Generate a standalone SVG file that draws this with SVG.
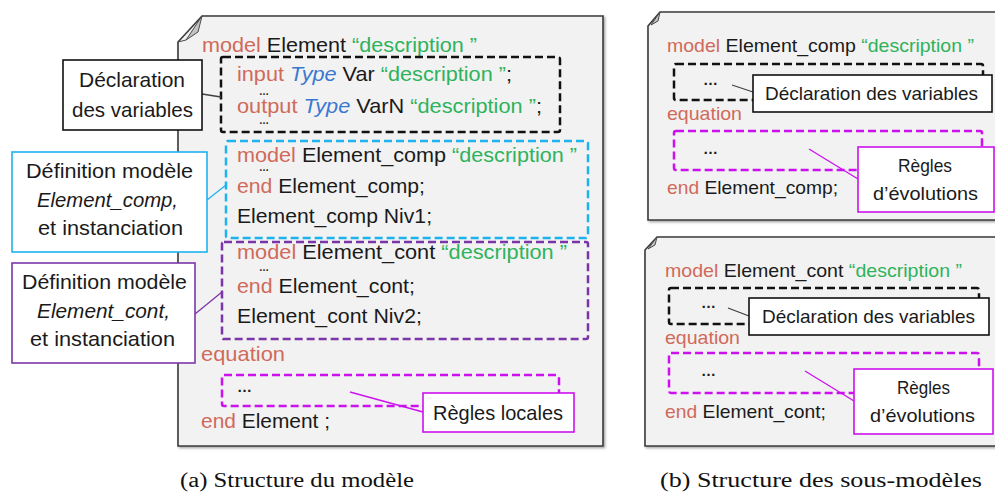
<svg xmlns="http://www.w3.org/2000/svg" width="995" height="493" viewBox="0 0 995 493">
<defs>
<filter id="sh" x="-5%" y="-5%" width="110%" height="110%">
<feDropShadow dx="1.5" dy="1.5" stdDeviation="1.2" flood-color="#000" flood-opacity="0.35"/>
</filter>
<style>
text{font-family:"Liberation Sans",Arial,sans-serif;fill:#1a1a1a}
.c{font-size:21px}
.s{font-size:19px}
.kw{fill:#d06a5a}
.gr{fill:#2eb35c}
.ty{fill:#3a78d0;font-style:italic}
.it{font-style:italic}
.dots{font-size:10px;font-weight:bold}
.bdots{font-size:15px;font-weight:bold}
.cap{font-family:"Liberation Serif","Times New Roman",serif;font-size:20px;fill:#111}
.panel{fill:#f2f2f2;stroke:#3a3a3a;stroke-width:1.6}
.fold{fill:#c4c4c4;stroke:#4a4a4a;stroke-width:1}
.dash{fill:none;stroke-width:2.5;stroke-dasharray:8 4}
.lbl{fill:#fff;stroke-width:1.6}
.k{stroke:#111}
.cy{stroke:#1db3ee}
.pu{stroke:#7a36a8}
.mg{stroke:#cc11ee}
.ln{fill:none;stroke-width:1.3}
</style>
</defs>

<!-- Panel (a) -->
<g id="panel-a">
<path class="panel" filter="url(#sh)" d="M202,16 L603,16 L603,446 L178,446 L178,42 Z"/>
<path class="fold" d="M202,16 L186,40 L198,32 Z"/>
<path fill="none" stroke="#4a4a4a" stroke-width="1" d="M178,42 L186,40"/>
</g>

<!-- Panel (b) top -->
<g id="panel-b1">
<path class="panel" filter="url(#sh)" d="M660,12 L1000,12 L1000,220 L648,220 L648,26 Z"/>
<path class="fold" d="M660,12 L651,25 L658,21 Z"/>
</g>

<!-- Panel (b) bottom -->
<g id="panel-b2">
<path class="panel" filter="url(#sh)" d="M657,237 L1000,237 L1000,446 L645,446 L645,250 Z"/>
<path class="fold" d="M657,237 L648,249 L655,245 Z"/>
</g>

<!-- Code in panel (a) -->
<g id="code-a">
<text class="c" x="202" y="52" textLength="275" lengthAdjust="spacingAndGlyphs"><tspan class="kw">model</tspan> Element <tspan class="gr">“description ”</tspan></text>
<text class="c" x="237" y="81" textLength="275" lengthAdjust="spacingAndGlyphs"><tspan class="kw">input</tspan> <tspan class="ty">Type</tspan> Var <tspan class="gr">“description ”</tspan>;</text>
<text class="dots" x="259" y="95">…</text>
<text class="c" x="237" y="113" textLength="305" lengthAdjust="spacingAndGlyphs"><tspan class="kw">output</tspan> <tspan class="ty">Type</tspan> VarN <tspan class="gr">“description ”</tspan>;</text>
<text class="dots" x="259" y="124">…</text>
<text class="c" x="237" y="162" textLength="340" lengthAdjust="spacingAndGlyphs"><tspan class="kw">model</tspan> Element_comp <tspan class="gr">“description ”</tspan></text>
<text class="dots" x="259" y="171">…</text>
<text class="c" x="237" y="193" textLength="188" lengthAdjust="spacingAndGlyphs"><tspan class="kw">end</tspan> Element_comp;</text>
<text class="c" x="237" y="223" textLength="195" lengthAdjust="spacingAndGlyphs">Element_comp Niv1;</text>
<text class="c" x="237" y="259" textLength="330" lengthAdjust="spacingAndGlyphs"><tspan class="kw">model</tspan> Element_cont <tspan class="gr">“description ”</tspan></text>
<text class="dots" x="259" y="271">…</text>
<text class="c" x="237" y="293" textLength="178" lengthAdjust="spacingAndGlyphs"><tspan class="kw">end</tspan> Element_cont;</text>
<text class="c" x="237" y="323" textLength="185" lengthAdjust="spacingAndGlyphs">Element_cont Niv2;</text>
<text class="c kw" x="201" y="361" textLength="84" lengthAdjust="spacingAndGlyphs">equation</text>
<text class="bdots" x="237" y="392">…</text>
<text class="c" x="201" y="428" textLength="129" lengthAdjust="spacingAndGlyphs"><tspan class="kw">end</tspan> Element ;</text>
</g>

<!-- Dashed groups in (a) -->
<g id="dashed-a">
<rect class="dash k" x="221" y="57" width="339" height="75" rx="2"/>
<rect class="dash cy" x="226" y="141" width="362" height="97" rx="2"/>
<rect class="dash pu" x="222" y="242" width="366" height="97" rx="2"/>
<rect class="dash mg" x="222" y="375" width="337" height="31" rx="2"/>
</g>

<!-- Connectors -->
<g id="connectors">
<line class="ln" stroke="#404040" x1="202" y1="94" x2="221" y2="97"/>
<line class="ln cy" x1="207" y1="200" x2="226" y2="185"/>
<line class="ln pu" x1="195" y1="314" x2="222" y2="292"/>
<line class="ln mg" x1="350" y1="392" x2="423" y2="412"/>
<line class="ln" stroke="#404040" x1="732" y1="85" x2="753" y2="92"/>
<line class="ln mg" x1="809" y1="149" x2="858" y2="179"/>
<line class="ln" stroke="#404040" x1="728" y1="308" x2="749" y2="316"/>
<line class="ln mg" x1="805" y1="371" x2="854" y2="401"/>
</g>

<!-- Label nodes (a) -->
<g id="lbl-decl-a">
<rect class="lbl k" x="63" y="60" width="139" height="70"/>
<text class="c" x="79" y="87" textLength="106" lengthAdjust="spacingAndGlyphs">Déclaration</text>
<text class="c" x="72" y="117" textLength="121" lengthAdjust="spacingAndGlyphs">des variables</text>
</g>
<g id="lbl-comp-a">
<rect class="lbl cy" x="12" y="152" width="195" height="100"/>
<text class="c" x="26" y="178" textLength="167" lengthAdjust="spacingAndGlyphs">Définition modèle</text>
<text class="c it" x="37" y="207" textLength="141" lengthAdjust="spacingAndGlyphs">Element_comp,</text>
<text class="c" x="38" y="235" textLength="145" lengthAdjust="spacingAndGlyphs">et instanciation</text>
</g>
<g id="lbl-cont-a">
<rect class="lbl pu" x="12" y="263" width="183" height="100"/>
<text class="c" x="22" y="289" textLength="165" lengthAdjust="spacingAndGlyphs">Définition modèle</text>
<text class="c it" x="37" y="318" textLength="133" lengthAdjust="spacingAndGlyphs">Element_cont,</text>
<text class="c" x="30" y="346" textLength="145" lengthAdjust="spacingAndGlyphs">et instanciation</text>
</g>
<g id="lbl-regles-a">
<rect class="lbl mg" x="423" y="393" width="151" height="39"/>
<text class="c" x="433" y="420" textLength="130" lengthAdjust="spacingAndGlyphs">Règles locales</text>
</g>

<!-- Panel (b) top content -->
<g id="code-b1">
<text class="s" x="667" y="52" textLength="307" lengthAdjust="spacingAndGlyphs"><tspan class="kw">model</tspan> Element_comp <tspan class="gr">“description ”</tspan></text>
<rect class="dash k" x="674" y="64" width="309" height="36" rx="2"/>
<text class="bdots" x="703" y="85">…</text>
<text class="s kw" x="667" y="120" textLength="75" lengthAdjust="spacingAndGlyphs">equation</text>
<rect class="dash mg" x="674" y="131" width="308" height="39" rx="2"/>
<text class="bdots" x="703" y="154">…</text>
<text class="s" x="667" y="194" textLength="171" lengthAdjust="spacingAndGlyphs"><tspan class="kw">end</tspan> Element_comp;</text>
</g>
<g id="lbl-decl-b1">
<rect class="lbl k" x="753" y="75" width="239" height="37"/>
<text class="s" x="765" y="100" textLength="213" lengthAdjust="spacingAndGlyphs">Déclaration des variables</text>
</g>
<g id="lbl-regles-b1">
<rect class="lbl mg" x="858" y="147" width="136" height="65"/>
<text class="s" x="898" y="172" textLength="54" lengthAdjust="spacingAndGlyphs">Règles</text>
<text class="s" x="873" y="200" textLength="105" lengthAdjust="spacingAndGlyphs">d’évolutions</text>
</g>

<!-- Panel (b) bottom content -->
<g id="code-b2">
<text class="s" x="665" y="277" textLength="297" lengthAdjust="spacingAndGlyphs"><tspan class="kw">model</tspan> Element_cont <tspan class="gr">“description ”</tspan></text>
<rect class="dash k" x="669" y="288" width="310" height="36" rx="2"/>
<text class="bdots" x="701" y="308">…</text>
<text class="s kw" x="665" y="344" textLength="75" lengthAdjust="spacingAndGlyphs">equation</text>
<rect class="dash mg" x="669" y="353" width="310" height="40" rx="2"/>
<text class="bdots" x="701" y="376">…</text>
<text class="s" x="665" y="418" textLength="161" lengthAdjust="spacingAndGlyphs"><tspan class="kw">end</tspan> Element_cont;</text>
</g>
<g id="lbl-decl-b2">
<rect class="lbl k" x="749" y="298" width="240" height="37"/>
<text class="s" x="762" y="323" textLength="213" lengthAdjust="spacingAndGlyphs">Déclaration des variables</text>
</g>
<g id="lbl-regles-b2">
<rect class="lbl mg" x="854" y="369" width="139" height="65"/>
<text class="s" x="897" y="394" textLength="53" lengthAdjust="spacingAndGlyphs">Règles</text>
<text class="s" x="870" y="422" textLength="105" lengthAdjust="spacingAndGlyphs">d’évolutions</text>
</g>

<!-- Captions -->
<text class="cap" x="180" y="487" textLength="234" lengthAdjust="spacingAndGlyphs">(a) Structure du modèle</text>
<text class="cap" x="660" y="487" textLength="322" lengthAdjust="spacingAndGlyphs">(b) Structure des sous-modèles</text>
</svg>
